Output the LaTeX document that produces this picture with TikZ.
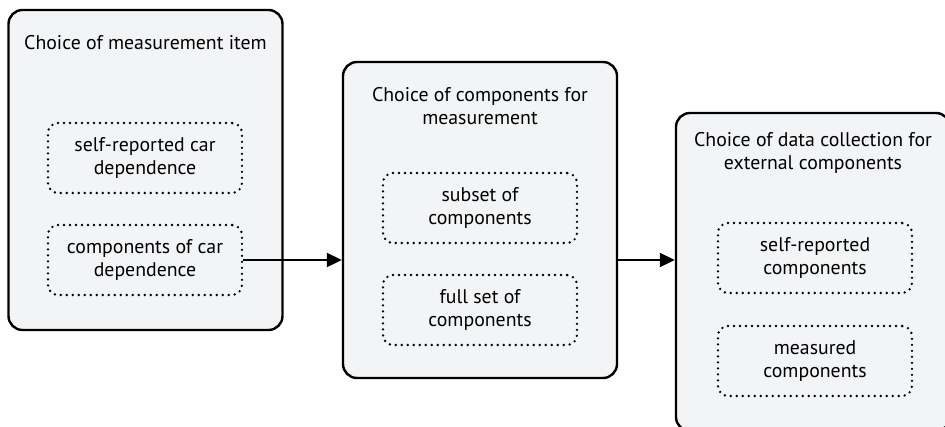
\documentclass[tikz,border=0pt]{standalone}
\usepackage{fontspec}
\setmainfont{PT Sans}
\usetikzlibrary{positioning,arrows.meta}
\definecolor{panel}{HTML}{F3F4F6}

\begin{document}
\begin{tikzpicture}[x=1pt,y=-1pt,
	every node/.style={font=\fontsize{19.8}{23.5}\selectfont,align=center},
	stage/.style={draw,line width=2.4pt,rounded corners=14pt,fill=panel,minimum width=274pt},
	option/.style={draw,line width=2.6pt,dash pattern=on 0pt off 6pt,line cap=round,rounded corners=10pt,fill=panel,minimum width=194pt,minimum height=70pt},
	flow/.style={line width=2pt,-{Triangle[length=15pt,width=14pt]}}]
	\path[use as bounding box,clip] (0,0) rectangle (945,426);
	% Stages
	\node[stage,minimum height=320pt] (item) at (145.5,170) {};
	\node[stage,minimum height=316pt] (comp) at (480,220) {};
	\node[stage,minimum height=318pt] (data) at (813,272) {};
	\node[below=23pt of item.north] (itemtitle) {Choice of measurement item};
	\node[below=23pt of comp.north] (comptitle) {Choice of components for\\measurement};
	\node[below=17pt of data.north] (datatitle) {Choice of data collection for\\external components};
	% Options inside each stage
	\node[option] (selfdep) at (145,158) {self-reported car\\dependence};
	\node[option] (compdep) at (145,260) {components of car\\dependence};
	\node[option] (subset) at (480,208) {subset of\\components};
	\node[option] (fullset) at (480,310) {full set of\\components};
	\node[option] (selfcomp) at (815,258) {self-reported\\components};
	\node[option] (meascomp) at (815,361) {measured\\components};
	% Flow
	\draw[flow] (compdep.east) -- (compdep.east -| comp.west);
	\draw[flow] (comp.east |- compdep.east) -- (data.west |- compdep.east);
\end{tikzpicture}
\end{document}
